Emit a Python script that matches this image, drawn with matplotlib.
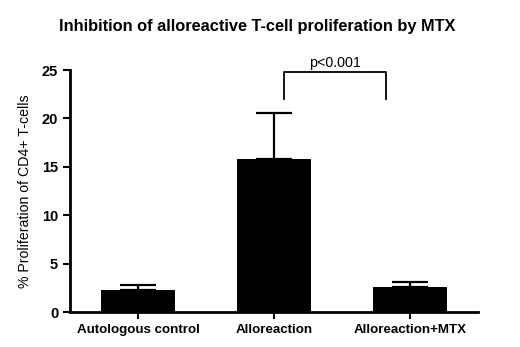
import matplotlib
matplotlib.use("Agg")
import matplotlib.pyplot as plt

categories = ["Autologous control", "Alloreaction", "Alloreaction+MTX"]
means = [2.25, 15.8, 2.6]
errors = [0.55, 4.8, 0.5]
yticks = [0, 5, 10, 15, 20, 25]
p_text = "p<0.001"

plt.rcParams['font.family'] = ['Liberation Sans', 'DejaVu Sans']

fig = plt.figure(figsize=(5.2, 3.47), dpi=100)
ax = fig.add_axes([70/520, 1-312/347, 408/520, 242/347])

x = list(range(len(categories)))
ax.bar(x, means, width=0.54, color='black', zorder=2)
ax.errorbar(x, means, yerr=[[0]*len(means), errors], fmt='none', ecolor='black',
            elinewidth=1.6, capsize=13, capthick=1.6, zorder=1)

ax.set_xlim(-0.5, 2.5)
ax.set_ylim(0, 25)
ax.set_yticks(yticks)
ax.set_xticks(x)
ax.set_xticklabels(categories, fontweight='bold', fontsize=9.6)
for lbl in ax.get_yticklabels():
    lbl.set_fontweight('bold')
    lbl.set_fontsize(10.5)
ax.tick_params(axis='both', width=1.5, length=5, direction='out')
for s in ['top', 'right']:
    ax.spines[s].set_visible(False)
for s in ['left', 'bottom']:
    ax.spines[s].set_linewidth(2)
ax.set_ylabel("% Proliferation of CD4+ T-cells", fontsize=10.2, labelpad=7)

# significance bracket
bx1, bx2, by_top, by_bot = 1.07, 1.82, 24.8, 22.0
ax.plot([bx1, bx1, bx2, bx2], [by_bot, by_top, by_top, by_bot], color='black', lw=1.3, clip_on=False)
ax.text((bx1+bx2)/2, by_top + 0.25, p_text, ha='center', va='bottom', fontsize=10.3)

fig.text(257/520, 1-26/347, "Inhibition of alloreactive T-cell proliferation by MTX",
         ha='center', va='center', fontsize=11.8, fontweight='bold',
         family=['Liberation Sans Narrow', 'Liberation Sans', 'DejaVu Sans'])

fig.savefig("out.png", dpi=100)
